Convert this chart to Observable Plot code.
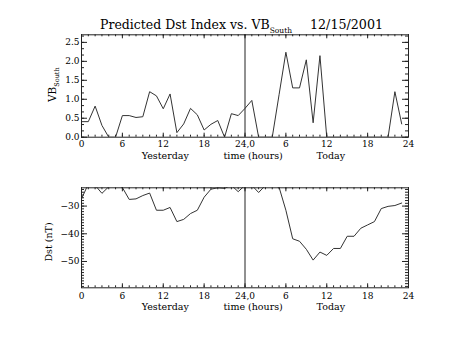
<!DOCTYPE html>
<html>
<head>
<meta charset="utf-8">
<script src="https://cdn.jsdelivr.net/npm/d3@7"></script>
<script src="https://cdn.jsdelivr.net/npm/@observablehq/plot@0.6"></script>
<style>
  html, body { margin: 0; padding: 0; background: #fff; }
  #chart { position: relative; width: 454px; height: 341px; overflow: hidden; background: #fff; }
  #chart svg { position: absolute; left: 0; }
</style>
</head>
<body>
<div id="chart"></div>
<script>
// ---- data ----
const hours = d3.range(48); // 0..23 yesterday, 24..47 today
const vbSouth = [0.41,0.41,0.82,0.31,0,0,0.57,0.57,0.52,0.54,
                 1.20,1.09,0.75,1.14,0.12,0.35,0.76,0.59,0.19,0.34,
                 0.44,0,0.62,0.57,0.76,0.97,0,0,0,1.12,
                 2.24,1.30,1.30,2.04,0.38,2.15,0,0,0,0,
                 0,0,0,0,0,0,1.20,0.35];
const dst = [-27.4,-22,-22.5,-25.4,-23.0,-22,-23.3,-27.6,-27.4,-26.2,
             -25.3,-31.5,-31.5,-30.5,-35.6,-34.8,-32.7,-31.5,-26.8,-23.9,
             -23.4,-23.6,-22.5,-24.8,-22.5,-22.5,-25.1,-22.5,-22.5,-23.2,
             -31.5,-41.8,-42.7,-45.6,-49.5,-46.6,-47.8,-45.3,-45.3,-40.9,
             -40.9,-38.0,-36.8,-35.6,-30.9,-30.1,-29.8,-28.9];
const xMajor = [0,6,12,18,24,30,36,42,48];
const xMajorLabels = ["0","6","12","18","24,0","6","12","18","24"];
const vbTicks = [0,0.5,1,1.5,2,2.5];
const dstTicks = [-50,-40,-30];
const titleText = "Predicted Dst Index vs. VB";
const titleSub = "South";
const titleDate = "12/15/2001";

const vbRows = hours.map((h,i) => ({h, v: vbSouth[i]}));
const dstRows = hours.map((h,i) => ({h, v: dst[i]}));
const xMinor = d3.range(0, 49, 1);

const INK = "#222";
const font = "DejaVu Serif, serif";

function panel({rows, yDomain, yMajor, yMinor, yFormat, top, height, mTop, mBottom, labelDy, titleDy}) {
  const W = 454, mL = 81, mR = 46;
  const fw = W - mL - mR;
  const fh = height - mTop - mBottom;
  const svg = Plot.plot({
    width: W, height,
    marginLeft: mL, marginRight: mR, marginTop: mTop, marginBottom: mBottom,
    style: {fontFamily: font, fontSize: "9px", color: INK, background: "transparent", overflow: "visible"},
    x: {domain: [0, 48], axis: null},
    y: {domain: yDomain, axis: null},
    marks: [
      Plot.line(rows, {x: "h", y: "v", stroke: "#333", strokeWidth: 1, clip: true}),
      Plot.ruleX([24], {stroke: INK, strokeWidth: 1}),
      // x ticks bottom / top
      Plot.tickX(xMinor, {x: d => d, insetTop: fh - 2, stroke: INK}),
      Plot.tickX(xMinor, {x: d => d, insetBottom: fh - 2, stroke: INK}),
      Plot.tickX(xMajor, {x: d => d, insetTop: fh - 4, stroke: INK}),
      Plot.tickX(xMajor, {x: d => d, insetBottom: fh - 4, stroke: INK}),
      // y ticks left / right
      Plot.tickY(yMinor, {y: d => d, insetRight: fw - 3, stroke: INK}),
      Plot.tickY(yMinor, {y: d => d, insetLeft: fw - 3, stroke: INK}),
      Plot.tickY(yMajor, {y: d => d, insetRight: fw - 6, stroke: INK}),
      Plot.tickY(yMajor, {y: d => d, insetLeft: fw - 6, stroke: INK}),
      Plot.frame({stroke: INK, strokeWidth: 1}),
      Plot.axisY({ticks: yMajor, tickSize: 0, tickPadding: 2, tickFormat: yFormat, fontSize: 9, fill: "#000", label: null}),
      Plot.text(xMajor, {x: d => d, text: (d, i) => xMajorLabels[i], frameAnchor: "bottom", dy: labelDy, fontSize: 9, fill: "#000"}),
      Plot.text(["Yesterday"], {x: 12.3, frameAnchor: "bottom", dy: titleDy, fontSize: 9.5, fill: "#000"}),
      Plot.text(["time (hours)"], {x: 25.2, frameAnchor: "bottom", dy: titleDy, fontSize: 9.5, fill: "#000"}),
      Plot.text(["Today"], {x: 36.6, frameAnchor: "bottom", dy: titleDy, fontSize: 9.5, fill: "#000"})
    ]
  });
  svg.style.top = top + "px";
  return svg;
}

const chart = document.getElementById("chart");

const topSvg = panel({
  rows: vbRows, yDomain: [0, 2.7], yMajor: vbTicks,
  yMinor: d3.range(0, 2.7, 0.5 / 3), yFormat: d3.format(".1f"),
  top: 0, height: 170, mTop: 34.3, mBottom: 33.3, labelDy: 10, titleDy: 21.5
});
chart.appendChild(topSvg);

const botSvg = panel({
  rows: dstRows, yDomain: [-59.5, -23.4], yMajor: dstTicks,
  yMinor: d3.range(-59, -23, 1), yFormat: undefined,
  top: 170, height: 171, mTop: 17.3, mBottom: 53.7, labelDy: 11, titleDy: 22.5
});
chart.appendChild(botSvg);

// Title with subscript
const ts = d3.select(topSvg);
const t = ts.append("text").attr("x", 100).attr("y", 29).attr("text-anchor", "start")
  .attr("font-family", font).attr("font-size", 12.5).attr("fill", "#000");
t.append("tspan").text(titleText);
t.append("tspan").attr("dy", 4).attr("font-size", 7.5).text(titleSub);
ts.append("text").attr("x", 310).attr("y", 29).attr("text-anchor", "start")
  .attr("textLength", 73).attr("lengthAdjust", "spacingAndGlyphs")
  .attr("font-family", font).attr("font-size", 12.5).attr("fill", "#000").text(titleDate);

// Y label top (rotated with subscript)
const yl = ts.append("text").attr("transform", "translate(56,102) rotate(-90)").attr("text-anchor", "start")
  .attr("font-family", font).attr("font-size", 10.5).attr("fill", "#000");
yl.append("tspan").text("VB");
yl.append("tspan").attr("dy", 3).attr("font-size", 6.5).text("South");

// Y label bottom
d3.select(botSvg).append("text").attr("transform", "translate(52,72) rotate(-90)")
  .attr("text-anchor", "middle").attr("font-family", font).attr("font-size", 9.5)
  .attr("fill", "#000").text("Dst (nT)");
</script>
</body>
</html>
